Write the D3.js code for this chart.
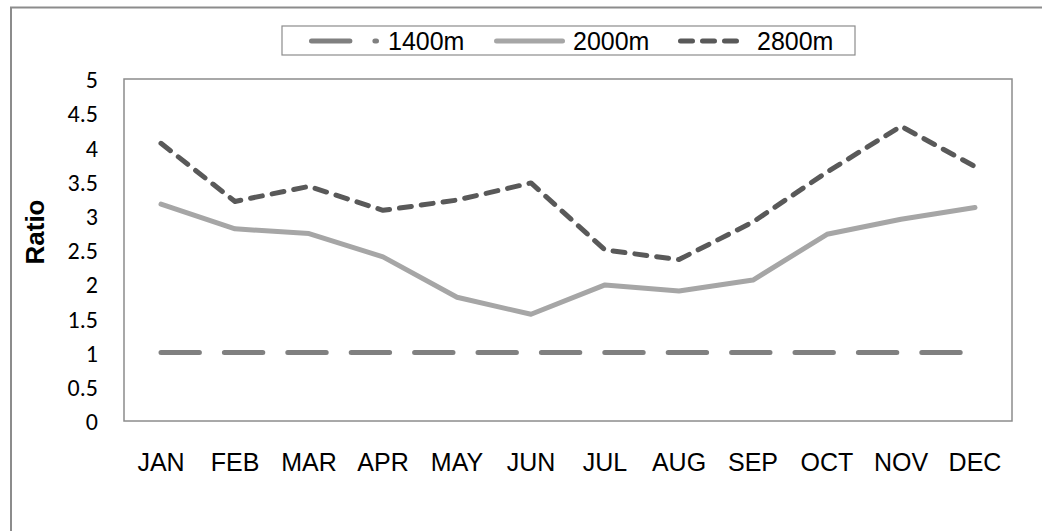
<!DOCTYPE html>
<html><head><meta charset="utf-8">
<script src="https://cdn.jsdelivr.net/npm/d3@7"></script>
<style>
html,body{margin:0;padding:0;background:#fff;}
svg{display:block;}
</style></head>
<body>
<script>
const months = ["JAN","FEB","MAR","APR","MAY","JUN","JUL","AUG","SEP","OCT","NOV","DEC"];
const s1400 = [1,1,1,1,1,1,1,1,1,1,1,1];
const s2000 = [3.17,2.81,2.74,2.40,1.81,1.56,1.99,1.90,2.06,2.73,2.95,3.12];
const s2800 = [4.06,3.21,3.43,3.08,3.23,3.48,2.50,2.36,2.91,3.64,4.31,3.72];
const yTicks = [0,0.5,1,1.5,2,2.5,3,3.5,4,4.5,5];
const seriesNames = ["1400m","2000m","2800m"];

const W = 1042, H = 531;
const plot = {left:124, right:1012, top:79, bottom:421};

const svg = d3.select("body").append("svg").attr("width",W).attr("height",H);

// outer chart border
svg.append("rect").attr("x",11).attr("y",7.5).attr("width",1100).attr("height",600)
  .attr("fill","none").attr("stroke","#8c8c8c").attr("stroke-width",2);

const x = d3.scaleBand().domain(months).range([plot.left, plot.right]).padding(0);
const y = d3.scaleLinear().domain([0,5]).range([plot.bottom, plot.top]);

// plot area border
svg.append("rect").attr("x",plot.left).attr("y",plot.top)
  .attr("width",plot.right-plot.left).attr("height",plot.bottom-plot.top)
  .attr("fill","none").attr("stroke","#8c8c8c").attr("stroke-width",1.5);

// y axis labels
const yAxis = d3.axisLeft(y).tickValues(yTicks).tickSize(0).tickPadding(0)
  .tickFormat(d => String(d));
const yg = svg.append("g").attr("transform",`translate(98,0)`).call(yAxis);
yg.select(".domain").remove();
yg.selectAll("text").attr("font-family","Carlito, Calibri, Lato, sans-serif")
  .attr("font-size",24).attr("fill","#000").attr("dy","0.36em");

// x axis labels
const xAxis = d3.axisBottom(x).tickSize(0).tickPadding(0);
const xg = svg.append("g").attr("transform",`translate(0,${plot.bottom})`).call(xAxis);
xg.select(".domain").remove();
xg.selectAll("text").attr("font-family","'Liberation Sans', Arial, sans-serif")
  .attr("font-size",25).attr("fill","#000").attr("dy",null).attr("y",50);

// y title
svg.append("text").attr("transform","translate(44,232) rotate(-90)")
  .attr("text-anchor","middle").attr("font-family","'Liberation Sans', Arial, sans-serif")
  .attr("font-weight","bold").attr("font-size",26).attr("fill","#000").text("Ratio");

const styles = [
  {data:s1400, color:"#808080", dash:"38.4 25"},
  {data:s2000, color:"#a6a6a6", dash:null},
  {data:s2800, color:"#595959", dash:"12 10"}
];

const line = d3.line().x((d,i)=>x(months[i])+x.bandwidth()/2).y(d=>y(d));
styles.forEach(s => {
  svg.append("path").datum(s.data).attr("d",line)
    .attr("fill","none").attr("stroke",s.color).attr("stroke-width",5)
    .attr("stroke-linecap","round").attr("stroke-linejoin","round")
    .attr("stroke-dasharray",s.dash);
});

// legend
svg.append("rect").attr("x",282).attr("y",26).attr("width",573).attr("height",29)
  .attr("fill","#fff").attr("stroke","#8c8c8c").attr("stroke-width",1.2);
const legItems = [
  {x0:311.5, x1:376.5, tx:388},
  {x0:496.5, x1:562.5, tx:573},
  {x0:680.5, x1:737.5, tx:757}
];
legItems.forEach((l,i) => {
  svg.append("line").attr("x1",l.x0).attr("x2",l.x1).attr("y1",41).attr("y2",41)
    .attr("stroke",styles[i].color).attr("stroke-width",5).attr("stroke-linecap","round")
    .attr("stroke-dasharray",styles[i].dash);
  svg.append("text").attr("x",l.tx).attr("y",49.5)
    .attr("font-family","'Liberation Sans', Arial, sans-serif").attr("font-size",25)
    .attr("fill","#000").text(seriesNames[i]);
});
</script>
</body></html>
